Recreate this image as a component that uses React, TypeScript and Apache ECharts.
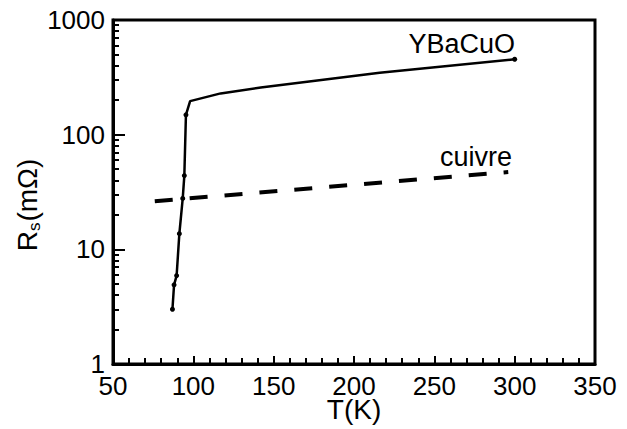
import React, { useEffect, useRef } from "react";
import * as echarts from "echarts";

// YBaCuO surface resistance vs temperature
const T_YBCO = [87, 88, 89.6, 91.3, 93.4, 94.4, 95.4, 98, 117, 142, 216, 300];
const R_YBCO = [3, 4.9, 5.9, 13.7, 27.8, 44, 149, 196, 229, 258, 347, 455];
const YBCO_MARKED = [0, 1, 2, 3, 4, 5, 6, 11];

// copper (cuivre)
const T_CU = [76, 296];
const R_CU = [26.3, 47.2];

// axes
const X_MIN = 50;
const X_MAX = 350;
const X_STEP = 50;
const Y_MIN = 1;
const Y_MAX = 1000;
const X_TITLE = "T(K)";
const Y_TITLE = "{a|R}{s|s}{a|(mΩ)}";
const SERIES_LABELS = ["YBaCuO", "cuivre"];

const FONT = "Liberation Sans, Arial, Helvetica, sans-serif";

export default function App() {
  const ref = useRef<HTMLDivElement>(null);
  useEffect(() => {
    if (!ref.current) return;
    const chart = echarts.init(ref.current, undefined, { renderer: "svg" });
    chart.setOption({
      animation: false,
      grid: {
        left: 113,
        right: 32,
        top: 20,
        bottom: 65,
        show: true,
        borderColor: "#000",
        borderWidth: 3,
      },
      graphic: [
        {
          type: "text",
          x: 354,
          y: 395,
          style: {
            text: X_TITLE,
            fontSize: 28,
            fontFamily: FONT,
            fill: "#000",
            align: "center",
            verticalAlign: "top",
          },
        },
        {
          type: "text",
          x: 27,
          y: 205,
          rotation: Math.PI / 2,
          style: {
            text: Y_TITLE,
            fontFamily: FONT,
            fill: "#000",
            align: "center",
            verticalAlign: "middle",
            rich: {
              a: { fontSize: 28, fontFamily: FONT, fill: "#000", lineHeight: 32 },
              s: {
                fontSize: 17,
                fontFamily: FONT,
                fill: "#000",
                lineHeight: 17,
                padding: [11, 1, 0, 0],
                verticalAlign: "bottom",
              },
            },
          },
        },
        {
          type: "text",
          x: 515,
          y: 57,
          style: {
            text: SERIES_LABELS[0],
            fontSize: 27,
            fontFamily: FONT,
            fill: "#000",
            align: "right",
            verticalAlign: "bottom",
          },
        },
        {
          type: "text",
          x: 512,
          y: 170,
          style: {
            text: SERIES_LABELS[1],
            fontSize: 27,
            fontFamily: FONT,
            fill: "#000",
            align: "right",
            verticalAlign: "bottom",
          },
        },
      ],
      xAxis: {
        type: "value",
        min: X_MIN,
        max: X_MAX,
        interval: X_STEP,
        axisLine: { show: true, lineStyle: { color: "#000", width: 3 } },
        axisTick: { show: true, inside: true, length: 8, lineStyle: { color: "#000", width: 2 } },
        minorTick: { show: true, splitNumber: 5, length: 6, lineStyle: { color: "#000", width: 2 } },
        axisLabel: { fontSize: 26, fontFamily: FONT, color: "#000", margin: 9 },
        splitLine: { show: false },
      },
      yAxis: {
        type: "log",
        min: Y_MIN,
        max: Y_MAX,
        axisLine: { show: true, lineStyle: { color: "#000", width: 3 } },
        axisTick: { show: true, inside: true, length: 12, lineStyle: { color: "#000", width: 2 } },
        minorTick: { show: true, splitNumber: 9, length: 6, lineStyle: { color: "#000", width: 2 } },
        axisLabel: {
          formatter: (v: number) => String(Math.round(v)),
          fontSize: 26,
          fontFamily: FONT,
          color: "#000",
          margin: 8,
        },
        splitLine: { show: false },
      },
      series: [
        {
          type: "line",
          name: SERIES_LABELS[0],
          data: T_YBCO.map((t, i) => [t, R_YBCO[i]]),
          symbol: "circle",
          symbolSize: (_v: any, p: any) => (YBCO_MARKED.includes(p.dataIndex) ? 5 : 0),
          itemStyle: { color: "#000" },
          lineStyle: { color: "#000", width: 2.5 },
        },
        {
          type: "line",
          name: SERIES_LABELS[1],
          data: T_CU.map((t, i) => [t, R_CU[i]]),
          symbol: "none",
          lineStyle: { color: "#000", width: 4, type: [18, 17] },
        },
      ],
    });
    return () => chart.dispose();
  }, []);
  return (
    <div
      ref={ref}
      style={{ width: 627, height: 429, position: "absolute", left: 0, top: 0, background: "#fff" }}
    />
  );
}
